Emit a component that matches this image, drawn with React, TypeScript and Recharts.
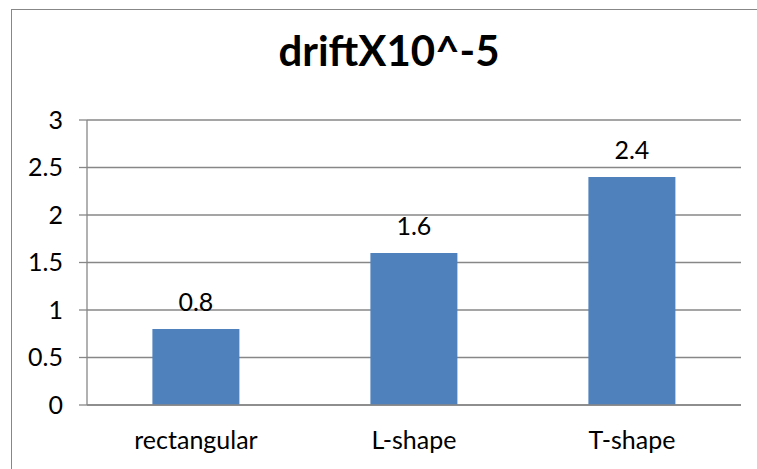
import { BarChart, Bar, XAxis, YAxis, CartesianGrid, LabelList } from "recharts";

const categories = ["rectangular", "L-shape", "T-shape"];
const drift = [0.8, 1.6, 2.4];
const yTicks = [0, 0.5, 1, 1.5, 2, 2.5, 3];
const bandTicks = [0, 1, 2, 3];

const data = categories.map((name, i) => ({ name, drift: drift[i] }));

const FONT = "Lato, 'Open Sans', sans-serif";
const GRAY = "#878787";
const TXT = { fill: "#000", fontSize: 25, fontFamily: FONT };

export default function App() {
  return (
    <div
      style={{
        position: "absolute",
        left: 0,
        top: 0,
        width: 757,
        height: 469,
        overflow: "hidden",
        background: "#fff",
        fontFamily: FONT,
      }}
    >
      {/* chart frame, only left and top edges fall inside the picture */}
      <div
        style={{
          position: "absolute",
          left: 11,
          top: 9,
          width: 800,
          height: 500,
          borderLeft: `1.5px solid ${GRAY}`,
          borderTop: `1.5px solid ${GRAY}`,
        }}
      />
      <div
        style={{
          position: "absolute",
          left: 0,
          top: 25,
          width: 778,
          textAlign: "center",
          fontSize: 42,
          lineHeight: "50px",
          fontWeight: 700,
          color: "#000",
        }}
      >
        driftX10^-5
      </div>
      <div style={{ position: "absolute", left: 0, top: 0 }}>
        <BarChart
          width={757}
          height={469}
          data={data}
          margin={{ top: 120, right: 16, bottom: 33, left: 0 }}
          barCategoryGap="30%"
        >
          <CartesianGrid horizontal vertical={false} stroke={GRAY} strokeWidth={1.3} />
          <XAxis
            xAxisId="band"
            type="number"
            domain={[0, 3]}
            ticks={bandTicks}
            tick={false}
            tickSize={7}
            height={1}
            axisLine={{ stroke: GRAY, strokeWidth: 1.3 }}
            tickLine={{ stroke: GRAY, strokeWidth: 1.3 }}
          />
          <XAxis
            xAxisId="cat"
            dataKey="name"
            height={30}
            axisLine={false}
            tickLine={false}
            tickSize={0}
            tickMargin={25}
            tick={TXT}
          />
          <YAxis
            domain={[0, 3]}
            ticks={yTicks}
            width={87}
            tickSize={8}
            tickMargin={16}
            axisLine={{ stroke: GRAY, strokeWidth: 1.3 }}
            tickLine={{ stroke: GRAY, strokeWidth: 1.3 }}
            tick={TXT}
          />
          <Bar xAxisId="cat" dataKey="drift" fill="#4f81bd" isAnimationActive={false}>
            <LabelList dataKey="drift" position="top" offset={18} style={TXT} />
          </Bar>
        </BarChart>
      </div>
    </div>
  );
}
